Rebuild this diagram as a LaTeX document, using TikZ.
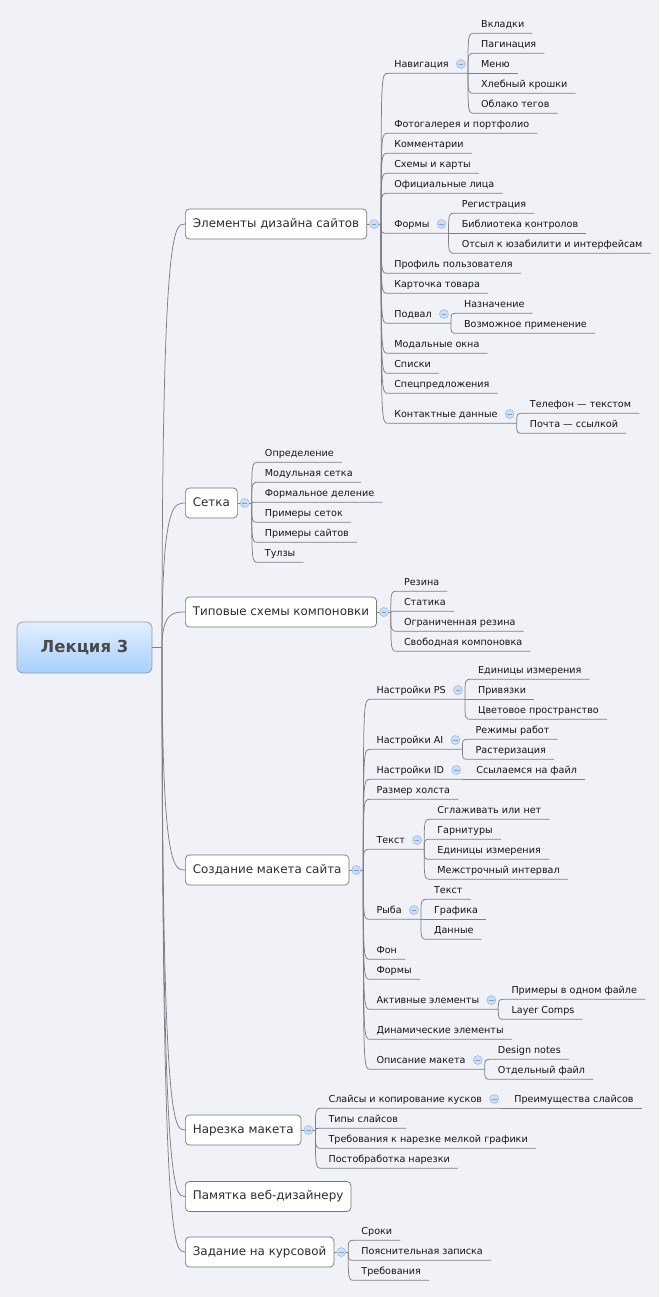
\documentclass[tikz,border=0pt]{standalone}
\usepackage{fontspec}
\setmainfont{DejaVu Sans}
\usetikzlibrary{calc}
\definecolor{bgc}{HTML}{F1F2F7}
\definecolor{linec}{HTML}{808080}
\definecolor{boxc}{HTML}{777777}
\definecolor{txtc}{HTML}{141414}
\definecolor{btxt}{HTML}{2E2E2E}
\definecolor{cfill}{HTML}{CCDDF6}
\definecolor{cdraw}{HTML}{A2BCE6}
\definecolor{cminus}{HTML}{7F9FD9}
\definecolor{roott}{HTML}{E2EFFF}
\definecolor{rootb}{HTML}{A6CFFE}
\definecolor{rootd}{HTML}{8E9BAA}
\definecolor{roottxt}{HTML}{4A4A4A}
\tikzset{
  conn/.style={draw=linec, line width=0.75pt},
  leaf/.style={inner sep=0pt, font=\fontsize{9.6}{12}\selectfont, text=txtc, anchor=base west},
  mbox/.style={draw=boxc, fill=white, rounded corners=4pt, inner xsep=7.5pt, inner ysep=0pt,
    minimum height=30pt, text height=9pt, text depth=2.5pt,
    font=\fontsize{11.9}{14}\selectfont, text=btxt, anchor=west, line width=0.7pt},
  coll/.style={circle, draw=cdraw, fill=cfill, minimum size=9pt, inner sep=0pt, line width=0.6pt},
  rootbox/.style={draw=rootd, rounded corners=6pt, top color=roott, bottom color=rootb,
    minimum width=135pt, minimum height=51pt, inner sep=0pt, line width=0.7pt,
    font=\bfseries\fontsize{16.5}{18}\selectfont, text=roottxt}
}
\newcommand{\MMcoll}[2]{%
  \node[coll] (#1) at (#2) {};
  \draw[cminus, line width=0.8pt] ($(#1.center)+(-2.3,0)$) -- ($(#1.center)+(2.3,0)$);
}
\newcommand{\MMleaf}[4]{%
  \node[leaf] (#1) at ($(#2 |- 0,#3)+(13,3.7)$) {#4};
  \coordinate (#1-s) at ($(#1.base west)+(-6,5.6)$);
  \coordinate (#1-e) at ($(#1.base east)+(8,5.6)$);
  \draw[conn] (#2) .. controls (#2 |- #1-s) and (#2 |- #1-s) .. (#1-s) -- (#1-e);
}
\newcommand{\MMsub}[4]{%
  \node[leaf] (#1) at ($(#2 |- 0,#3)+(13,3.7)$) {#4};
  \coordinate (#1-s) at ($(#1.base west)+(-6,5.6)$);
  \coordinate (#1-f) at ($(#1.base east)+(19,5.6)$);
  \draw[conn] (#2) .. controls (#2 |- #1-s) and (#2 |- #1-s) .. (#1-s) -- (#1-f);
  \MMcoll{#1-c}{$(#1.base east)+(12,-3.7)$}
}
\newcommand{\MMbox}[3]{%
  \node[mbox] (#1) at (185,#2) {#3};
  \draw[conn] (rf) .. controls (rf |- #1.west) and ($(rf |- #1.west)+(12,0)$) .. (#1.west);
}
\newcommand{\MMboxc}[1]{%
  \coordinate (#1-f) at ($(#1.east)+(14,0)$);
  \draw[conn] (#1.east) -- (#1-f);
  \MMcoll{#1-c}{$(#1.east)+(7,0)$}
}
\begin{document}
\begin{tikzpicture}[x=1pt,y=-1pt]
\useasboundingbox (0,0) rectangle (659,1297);
\fill[bgc] (0,0) rectangle (659,1297);

% root
\node[rootbox] (root) at (84.5,647.5) {Лекция 3};
\coordinate (rf) at (162,647.5);
\draw[conn] (root.east) -- (rf);

% main branches
\MMbox{b1}{224}{Элементы дизайна сайтов}
\MMbox{b2}{503}{Сетка}
\MMbox{b3}{612}{Типовые схемы компоновки}
\MMbox{b4}{870}{Создание макета сайта}
\MMbox{b5}{1130}{Нарезка макета}
\MMbox{b6}{1196.5}{Памятка веб-дизайнеру}
\MMbox{b7}{1252}{Задание на курсовой}
\MMboxc{b1}
\MMboxc{b2}
\MMboxc{b3}
\MMboxc{b4}
\MMboxc{b5}
\MMboxc{b7}

% branch 1
\MMsub{nav}{b1-f}{64}{Навигация}
\MMleaf{nav1}{nav-f}{24}{Вкладки}
\MMleaf{nav2}{nav-f}{44}{Пагинация}
\MMleaf{nav3}{nav-f}{64}{Меню}
\MMleaf{nav4}{nav-f}{84}{Хлебный крошки}
\MMleaf{nav5}{nav-f}{104}{Облако тегов}
\MMleaf{foto}{b1-f}{124}{Фотогалерея и портфолио}
\MMleaf{komm}{b1-f}{144}{Комментарии}
\MMleaf{shem}{b1-f}{164}{Схемы и карты}
\MMleaf{ofic}{b1-f}{184}{Официальные лица}
\MMsub{form}{b1-f}{224}{Формы}
\MMleaf{form1}{form-f}{204}{Регистрация}
\MMleaf{form2}{form-f}{224}{Библиотека контролов}
\MMleaf{form3}{form-f}{244}{Отсыл к юзабилити и интерфейсам}
\MMleaf{prof}{b1-f}{264}{Профиль пользователя}
\MMleaf{kart}{b1-f}{284}{Карточка товара}
\MMsub{podv}{b1-f}{314}{Подвал}
\MMleaf{podv1}{podv-f}{304}{Назначение}
\MMleaf{podv2}{podv-f}{324}{Возможное применение}
\MMleaf{moda}{b1-f}{344}{Модальные окна}
\MMleaf{spis}{b1-f}{364}{Списки}
\MMleaf{spec}{b1-f}{384}{Спецпредложения}
\MMsub{kont}{b1-f}{414}{Контактные данные}
\MMleaf{kont1}{kont-f}{404}{Телефон — текстом}
\MMleaf{kont2}{kont-f}{424}{Почта — ссылкой}

% branch 2
\MMleaf{s1}{b2-f}{453}{Определение}
\MMleaf{s2}{b2-f}{473}{Модульная сетка}
\MMleaf{s3}{b2-f}{493}{Формальное деление}
\MMleaf{s4}{b2-f}{513}{Примеры сеток}
\MMleaf{s5}{b2-f}{533}{Примеры сайтов}
\MMleaf{s6}{b2-f}{553}{Тулзы}

% branch 3
\MMleaf{k1}{b3-f}{582}{Резина}
\MMleaf{k2}{b3-f}{602}{Статика}
\MMleaf{k3}{b3-f}{622}{Ограниченная резина}
\MMleaf{k4}{b3-f}{642}{Свободная компоновка}

% branch 4
\MMsub{ps}{b4-f}{690}{Настройки PS}
\MMleaf{ps1}{ps-f}{670}{Единицы измерения}
\MMleaf{ps2}{ps-f}{690}{Привязки}
\MMleaf{ps3}{ps-f}{710}{Цветовое пространство}
\MMsub{ai}{b4-f}{740}{Настройки AI}
\MMleaf{ai1}{ai-f}{730}{Режимы работ}
\MMleaf{ai2}{ai-f}{750}{Растеризация}
\MMsub{id}{b4-f}{770}{Настройки ID}
\MMleaf{id1}{id-f}{770}{Ссылаемся на файл}
\MMleaf{razm}{b4-f}{790}{Размер холста}
\MMsub{tek}{b4-f}{840}{Текст}
\MMleaf{t1}{tek-f}{810}{Сглаживать или нет}
\MMleaf{t2}{tek-f}{830}{Гарнитуры}
\MMleaf{t3}{tek-f}{850}{Единицы измерения}
\MMleaf{t4}{tek-f}{870}{Межстрочный интервал}
\MMsub{ryba}{b4-f}{910}{Рыба}
\MMleaf{r1}{ryba-f}{890}{Текст}
\MMleaf{r2}{ryba-f}{910}{Графика}
\MMleaf{r3}{ryba-f}{930}{Данные}
\MMleaf{fon}{b4-f}{950}{Фон}
\MMleaf{formy}{b4-f}{970}{Формы}
\MMsub{akt}{b4-f}{1000}{Активные элементы}
\MMleaf{a1}{akt-f}{990}{Примеры в одном файле}
\MMleaf{a2}{akt-f}{1010}{Layer Comps}
\MMleaf{din}{b4-f}{1030}{Динамические элементы}
\MMsub{opis}{b4-f}{1060}{Описание макета}
\MMleaf{o1}{opis-f}{1050}{Design notes}
\MMleaf{o2}{opis-f}{1070}{Отдельный файл}

% branch 5
\MMsub{sl}{b5-f}{1099}{Слайсы и копирование кусков}
\MMleaf{sl1}{sl-f}{1099}{Преимущества слайсов}
\MMleaf{tip}{b5-f}{1119}{Типы слайсов}
\MMleaf{treb}{b5-f}{1139}{Требования к нарезке мелкой графики}
\MMleaf{post}{b5-f}{1159}{Постобработка нарезки}

% branch 7
\MMleaf{z1}{b7-f}{1231}{Сроки}
\MMleaf{z2}{b7-f}{1251}{Пояснительная записка}
\MMleaf{z3}{b7-f}{1271}{Требования}
\end{tikzpicture}
\end{document}
